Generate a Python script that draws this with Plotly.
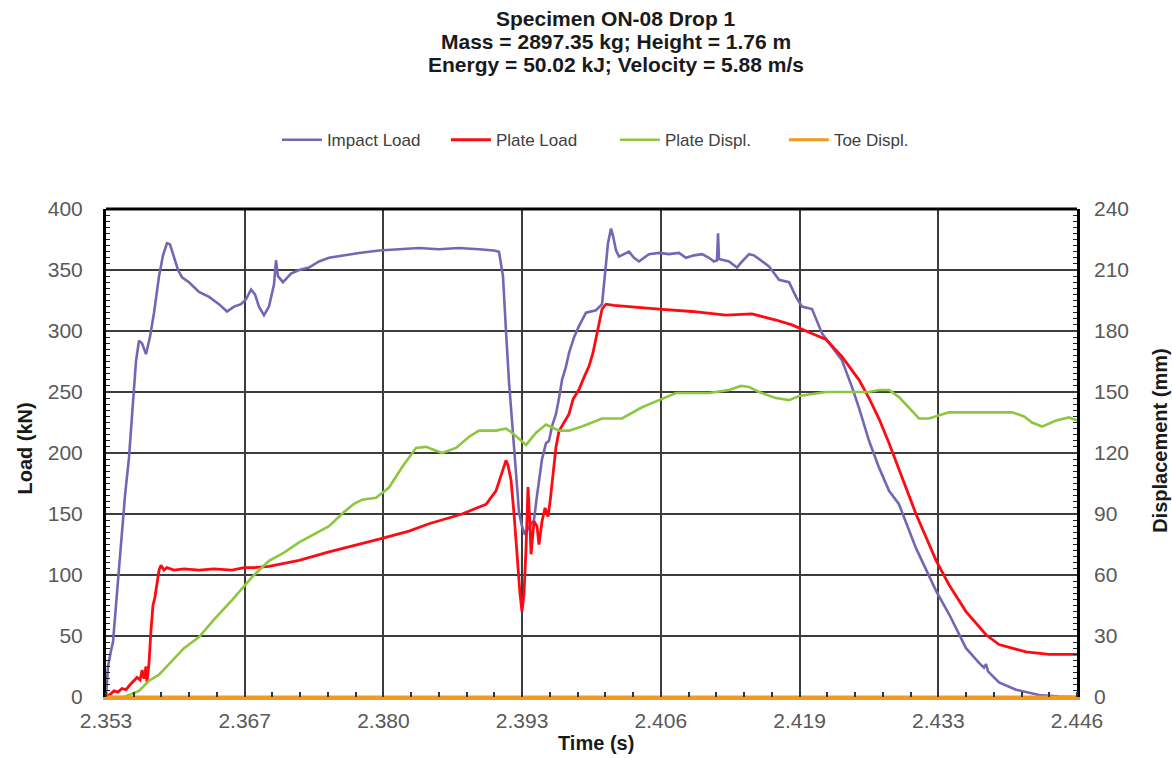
import numpy as np
import plotly.graph_objects as go

# ---- data -------------------------------------------------------------
impact_t = [2.35300, 2.35319, 2.35348, 2.35367, 2.35405, 2.35444, 2.35482, 2.35520,
            2.35559, 2.35587, 2.35616, 2.35645, 2.35683, 2.35721, 2.35760, 2.35808,
            2.35846, 2.35884, 2.35913, 2.35951, 2.35990, 2.36028, 2.36095, 2.36191,
            2.36287, 2.36382, 2.36459, 2.36526, 2.36593, 2.36641, 2.36689, 2.36727,
            2.36765, 2.36813, 2.36861, 2.36909, 2.36928, 2.36947, 2.36995, 2.37072,
            2.37149, 2.37244, 2.37340, 2.37436, 2.37580, 2.37723, 2.37915, 2.38106,
            2.38298, 2.38489, 2.38681, 2.38873, 2.39016, 2.39064, 2.39102, 2.39131,
            2.39160, 2.39208, 2.39256, 2.39284, 2.39313, 2.39342, 2.39371, 2.39399,
            2.39428, 2.39447, 2.39476, 2.39514, 2.39543, 2.39572, 2.39610, 2.39639,
            2.39668, 2.39706, 2.39735, 2.39783, 2.39830, 2.39897, 2.39945, 2.39993,
            2.40051, 2.40070, 2.40089, 2.40108, 2.40137, 2.40156, 2.40185, 2.40214,
            2.40261, 2.40309, 2.40357, 2.40405, 2.40453, 2.40501, 2.40597, 2.40692,
            2.40788, 2.40855, 2.40932, 2.41008, 2.41076, 2.41123, 2.41152, 2.41162,
            2.41171, 2.41267, 2.41344, 2.41382, 2.41459, 2.41507, 2.41554, 2.41650,
            2.41746, 2.41842, 2.41909, 2.41966, 2.42062, 2.42158, 2.42254, 2.42349,
            2.42445, 2.42512, 2.42608, 2.42704, 2.42800, 2.42895, 2.43058, 2.43250,
            2.43374, 2.43537, 2.43662, 2.43709, 2.43729, 2.43748, 2.43853, 2.44016,
            2.44236, 2.44428, 2.44600]
impact_load = [0, 25, 38, 45, 85, 125, 165, 196,
               240, 275, 292, 290, 281, 295, 315, 345,
               362, 372, 371, 360, 350, 344, 340, 332,
               328, 322, 316, 320, 322, 326, 334, 330,
               320, 313, 320, 338, 358, 345, 340, 347,
               350, 352, 357, 360, 362, 364, 366, 367,
               368, 367, 368, 367, 366, 365, 345, 300,
               258, 205, 151, 140, 133, 138, 142, 145,
               165, 177, 195, 208, 210, 222, 232, 245,
               260, 271, 282, 295, 304, 315, 316, 317,
               322, 340, 353, 372, 384, 378, 366, 361,
               363, 365, 360, 357, 360, 363, 364, 363,
               364, 360, 362, 363, 360, 357, 358, 380,
               359, 357, 352, 356, 363, 362, 359, 353,
               342, 340, 328, 320, 318, 298, 287, 276,
               254, 237, 210, 188, 169, 158, 122, 87,
               68, 40, 28, 24, 27, 21, 12, 6,
               1.6, 0.3, 0]

plate_t = [2.35300, 2.35338, 2.35377, 2.35415, 2.35453, 2.35492, 2.35530, 2.35568,
           2.35597, 2.35626, 2.35645, 2.35664, 2.35683, 2.35693, 2.35712, 2.35731,
           2.35750, 2.35769, 2.35788, 2.35808, 2.35827, 2.35856, 2.35884, 2.35951,
           2.36047, 2.36191, 2.36334, 2.36507, 2.36622, 2.36718, 2.36861, 2.37149,
           2.37436, 2.37723, 2.37944, 2.38202, 2.38394, 2.38710, 2.38940, 2.39035,
           2.39093, 2.39131, 2.39150, 2.39179, 2.39208, 2.39237, 2.39265, 2.39284,
           2.39304, 2.39323, 2.39342, 2.39361, 2.39371, 2.39399, 2.39428, 2.39447,
           2.39476, 2.39505, 2.39533, 2.39553, 2.39581, 2.39610, 2.39639, 2.39687,
           2.39735, 2.39773, 2.39830, 2.39878, 2.39926, 2.39964, 2.39993, 2.40022,
           2.40051, 2.40089, 2.40166, 2.40281, 2.40453, 2.40597, 2.40913, 2.41238,
           2.41487, 2.41717, 2.41870, 2.42033, 2.42196, 2.42349, 2.42445, 2.42512,
           2.42608, 2.42704, 2.42800, 2.42895, 2.43058, 2.43250, 2.43374, 2.43537,
           2.43729, 2.43853, 2.44112, 2.44332, 2.44600]
plate_load = [0, 2, 5, 4, 7, 6, 10, 13,
              16, 14, 22, 15, 25, 12, 28, 55,
              75, 82, 95, 104, 108, 104, 106, 104,
              105, 104, 105, 104, 106, 106, 107, 112,
              119, 125, 130, 136, 142, 150, 158, 169,
              183, 194, 190, 178, 150, 115, 85, 70,
              85, 122, 172, 140, 117, 144, 140, 125,
              144, 155, 148, 160, 185, 205, 218, 225,
              232, 244, 252, 262, 271, 282, 293, 306,
              318, 322, 321, 320, 319, 318, 316, 313,
              314, 309, 305, 299, 293, 279, 268, 260,
              245, 228, 208, 186, 150, 112, 92, 70,
              51, 43, 37, 35, 35]

displ_t = [2.35300, 2.35472, 2.35616, 2.35712, 2.35808, 2.35932, 2.36047, 2.36191,
           2.36334, 2.36507, 2.36698, 2.36861, 2.37005, 2.37149, 2.37292, 2.37436,
           2.37580, 2.37675, 2.37752, 2.37886, 2.38011, 2.38135, 2.38269, 2.38365,
           2.38518, 2.38652, 2.38777, 2.38873, 2.39035, 2.39131, 2.39189, 2.39256,
           2.39323, 2.39419, 2.39514, 2.39639, 2.39735, 2.39859, 2.40051, 2.40242,
           2.40434, 2.40597, 2.40759, 2.41076, 2.41267, 2.41382, 2.41459, 2.41554,
           2.41717, 2.41842, 2.41938, 2.42196, 2.42388, 2.42608, 2.42704, 2.42800,
           2.42895, 2.42991, 2.43087, 2.43183, 2.43374, 2.43537, 2.43729, 2.43853,
           2.43978, 2.44093, 2.44169, 2.44265, 2.44399, 2.44524, 2.44600]
plate_displ = [0, 0, 3, 8, 11, 18, 24, 29.5,
               38, 47.7, 59, 67, 71, 76, 80, 84,
               91, 95, 97, 98, 103, 113, 122.5, 123,
               120, 122.5, 128, 131, 131, 132, 130, 127,
               124, 130, 134, 131, 131, 133, 137, 137,
               142.5, 146, 149.5, 149.5, 151, 153, 152.5, 150,
               147, 146, 148, 150, 150, 150, 151, 151,
               147.5, 142, 137, 137, 140, 140, 140, 140,
               140, 138, 135, 133, 136, 137.5, 136]

toe_t = [2.35300, 2.44600]
toe_displ = [0, 0]

x_tick_labels = ["2.353", "2.367", "2.380", "2.393", "2.406", "2.419", "2.433", "2.446"]

title_lines = ["Specimen ON-08 Drop 1",
               "Mass = 2897.35 kg; Height = 1.76 m",
               "Energy = 50.02 kJ; Velocity = 5.88 m/s"]

# ---- styling -----------------------------------------------------------
FONT = "Liberation Sans, Arial, sans-serif"
GRID = "#3c3c3c"
TICK_FONT = dict(family=FONT, size=21, color="#595959")

x_range = [2.353, 2.446]
x_major = np.linspace(x_range[0], x_range[1], len(x_tick_labels))
x_minor = np.linspace(x_range[0], x_range[1], 5 * (len(x_tick_labels) - 1) + 1)

fig = go.Figure()
fig.add_trace(go.Scatter(x=impact_t, y=impact_load, name="Impact Load", mode="lines",
                         line=dict(color="#7566B3", width=2.6)))
fig.add_trace(go.Scatter(x=plate_t, y=plate_load, name="Plate Load", mode="lines",
                         line=dict(color="#FF0A12", width=2.8)))
fig.add_trace(go.Scatter(x=displ_t, y=plate_displ, name="Plate Displ.", mode="lines",
                         line=dict(color="#8DC63F", width=2.6), yaxis="y2"))
fig.add_trace(go.Scatter(x=toe_t, y=toe_displ, name="Toe Displ.", mode="lines",
                         line=dict(color="#F39A1E", width=3), yaxis="y2"))

annotations = []
for i, line in enumerate(title_lines):
    annotations.append(dict(text=f"<b>{line}</b>", xref="paper", yref="paper",
                            x=0.525, y=1.391 - i * 0.0475, showarrow=False,
                            xanchor="center", yanchor="middle",
                            font=dict(family=FONT, size=21, color="#1a1a1a")))
annotations += [
    dict(text="<b>Load (kN)</b>", xref="paper", yref="paper", x=-0.083, y=0.51,
         textangle=-90, showarrow=False, xanchor="center", yanchor="middle",
         font=dict(family=FONT, size=20, color="#1a1a1a")),
    dict(text="<b>Displacement (mm)</b>", xref="paper", yref="paper", x=1.0855, y=0.525,
         textangle=-90, showarrow=False, xanchor="center", yanchor="middle",
         font=dict(family=FONT, size=20, color="#1a1a1a")),
    dict(text="<b>Time (s)</b>", xref="paper", yref="paper", x=0.5046, y=-0.094,
         showarrow=False, xanchor="center", yanchor="middle",
         font=dict(family=FONT, size=20, color="#1a1a1a")),
]

fig.update_layout(
    width=1172, height=758,
    margin=dict(l=106, r=95, t=209, b=61),
    paper_bgcolor="white", plot_bgcolor="white",
    showlegend=True,
    legend=dict(orientation="h", x=0.176, xanchor="left", y=1.141, yanchor="middle",
                font=dict(family=FONT, size=17, color="#404040"),
                itemwidth=40, entrywidth=114, entrywidthmode="pixels",
                tracegroupgap=0, bgcolor="rgba(0,0,0,0)"),
    annotations=annotations,
    xaxis=dict(range=x_range, tickmode="array", tickvals=x_major, ticktext=x_tick_labels,
               showgrid=True, gridcolor=GRID, gridwidth=1.6, zeroline=False,
               showline=True, linecolor="#F39A1E", linewidth=3, mirror=False,
               ticks="", tickfont=TICK_FONT, ticklabelstandoff=3,
               minor=dict(tickmode="array", tickvals=x_minor, ticks="inside",
                          ticklen=5, tickwidth=1.5, tickcolor="#333333", showgrid=False)),
    yaxis=dict(range=[0, 400], dtick=50, showgrid=True, gridcolor=GRID, gridwidth=1.6,
               zeroline=False, showline=True, linecolor="black", linewidth=3, mirror=True,
               ticks="", tickfont=TICK_FONT, ticklabelstandoff=16,
               minor=dict(dtick=5, ticks="inside", ticklen=4, tickwidth=1.3,
                          tickcolor="#222222", showgrid=False)),
    yaxis2=dict(range=[0, 240], dtick=30, overlaying="y", side="right", showgrid=False,
                zeroline=False, showline=False, ticks="", tickfont=TICK_FONT,
                ticklabelstandoff=16,
                minor=dict(dtick=3, ticks="inside", ticklen=4, tickwidth=1.3,
                           tickcolor="#222222", showgrid=False)),
    shapes=[dict(type="line", xref="paper", yref="paper", x0=0, x1=1, y0=1, y1=1,
                 line=dict(color="black", width=3))],
)

fig.write_html("out.html")
